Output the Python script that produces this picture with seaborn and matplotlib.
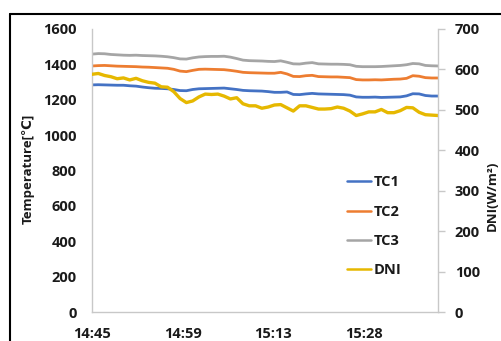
import numpy as np
import pandas as pd
import matplotlib
matplotlib.use("Agg")
import matplotlib.pyplot as plt
from matplotlib.lines import Line2D
import seaborn as sns

# Minutes elapsed since 14:45, one reading per minute
minutes = list(range(56))

tc1 = [1284, 1285, 1284, 1283, 1282, 1282, 1279, 1277, 1272, 1268,
       1265, 1264, 1262, 1258, 1252, 1251, 1258, 1262, 1263, 1264,
       1265, 1266, 1262, 1258, 1253, 1251, 1250, 1249, 1246, 1242,
       1242, 1244, 1230, 1229, 1233, 1236, 1233, 1232, 1231, 1230,
       1229, 1226, 1216, 1214, 1214, 1215, 1213, 1214, 1215, 1216,
       1222, 1234, 1233, 1224, 1221, 1221]

tc2 = [1391, 1393, 1394, 1392, 1390, 1389, 1388, 1387, 1385, 1384,
       1382, 1380, 1378, 1372, 1362, 1359, 1366, 1372, 1373, 1372,
       1371, 1370, 1366, 1361, 1355, 1353, 1352, 1351, 1350, 1350,
       1355, 1346, 1332, 1331, 1336, 1338, 1331, 1330, 1329, 1329,
       1327, 1325, 1314, 1312, 1312, 1313, 1312, 1314, 1316, 1317,
       1321, 1336, 1333, 1325, 1323, 1323]

tc3 = [1458, 1461, 1460, 1456, 1454, 1452, 1451, 1452, 1450, 1449,
       1448, 1446, 1443, 1438, 1431, 1430, 1437, 1442, 1444, 1445,
       1445, 1446, 1441, 1433, 1424, 1421, 1420, 1419, 1417, 1416,
       1420, 1412, 1403, 1402, 1407, 1410, 1403, 1402, 1401, 1401,
       1400, 1398, 1389, 1387, 1387, 1387, 1388, 1390, 1392, 1394,
       1398, 1405, 1403, 1394, 1392, 1391]

dni = [588, 590, 585, 582, 577, 579, 574, 578, 572, 568,
       566, 557, 556, 545, 528, 518, 522, 532, 539, 538,
       539, 534, 527, 530, 515, 510, 510, 504, 507, 512,
       513, 505, 497, 510, 510, 506, 502, 502, 503, 507,
       504, 497, 486, 490, 495, 495, 501, 493, 493, 498,
       506, 505, 494, 488, 487, 486]

tick_minutes = [0, 14.4, 28.8, 43.2]
tick_labels = ["14:45", "14:59", "15:13", "15:28"]

series_names = ["TC1", "TC2", "TC3"]
series_colors = {"TC1": "#4472C4", "TC2": "#ED7D31", "TC3": "#A5A5A5"}
dni_color = "#E6B800"

temp_df = pd.DataFrame({"minute": minutes, "TC1": tc1, "TC2": tc2, "TC3": tc3})
temp_long = temp_df.melt(id_vars="minute", var_name="sensor", value_name="temp")
dni_df = pd.DataFrame({"minute": minutes, "DNI": dni})

sns.set_style("white")
plt.rcParams["font.family"] = ["Open Sans", "DejaVu Sans"]
plt.rcParams["font.weight"] = "bold"
plt.rcParams["mathtext.fontset"] = "custom"
plt.rcParams["mathtext.bf"] = "Open Sans:bold"
plt.rcParams["mathtext.rm"] = "Open Sans:bold"

fig = plt.figure(figsize=(5.02, 3.41), dpi=100)
ax = fig.add_axes([92 / 502, 1 - 312 / 341, (438 - 92) / 502, (312 - 29) / 341])
ax2 = ax.twinx()

sns.lineplot(data=temp_long, x="minute", y="temp", hue="sensor",
             hue_order=series_names, palette=series_colors,
             linewidth=2.0, ax=ax, legend=False)
sns.lineplot(data=dni_df, x="minute", y="DNI", color=dni_color,
             linewidth=2.4, ax=ax2, legend=False)

ax.set_xlim(0, 55)
ax.set_ylim(0, 1600)
ax2.set_ylim(0, 700)
ax.set_yticks(range(0, 1601, 200))
ax2.set_yticks(range(0, 701, 100))
ax.set_xticks(tick_minutes)
ax.set_xticklabels(tick_labels)

spine_c = "#C8C8C8"
for a in (ax, ax2):
    a.spines["top"].set_visible(False)
    for s in ("left", "right", "bottom"):
        a.spines[s].set_color(spine_c)
        a.spines[s].set_linewidth(1.0)
ax.spines["right"].set_visible(False)
ax2.spines["left"].set_visible(False)
ax2.spines["bottom"].set_visible(False)

ink = "#1a1a1a"
ax.tick_params(axis="y", length=0, pad=11, labelsize=10.5, labelcolor=ink)
ax.tick_params(axis="x", length=0, pad=11, labelsize=10.5, labelcolor=ink)
ax2.tick_params(axis="y", length=5, width=1, color=spine_c, direction="out",
                pad=7, labelsize=10.5, labelcolor=ink)
for lbl in ax.get_xticklabels() + ax.get_yticklabels() + ax2.get_yticklabels():
    lbl.set_fontweight("bold")

ax.set_xlabel("")
ax.set_ylabel("")
ax2.set_ylabel("")
fig.text(28 / 502, 1 - 169 / 341, "Temperature[℃]", rotation=90,
         ha="center", va="center", fontsize=9.5, fontweight="bold", color=ink)
fig.text(492 / 502, 1 - 196 / 341, "DNI(W/m²)", rotation=90,
         ha="center", va="center", fontsize=9.5, fontweight="bold", color=ink)

handles = [Line2D([], [], color=series_colors[n], lw=1.8) for n in series_names]
handles.append(Line2D([], [], color=dni_color, lw=1.8))
labels = series_names + ["DNI"]
leg = fig.legend(handles, labels, loc="upper left",
                 bbox_to_anchor=(340 / 502, 1 - 168 / 341),
                 frameon=False, fontsize=10.5, handlelength=1.6,
                 handletextpad=0.2, labelspacing=1.05, borderpad=0)
for t in leg.get_texts():
    t.set_fontweight("bold")
    t.set_color(ink)

# Outer frame around the chart area
fig.add_artist(Line2D([9.5 / 502, 9.5 / 502], [0, 1 - 14 / 341],
                      transform=fig.transFigure, color="black", lw=1.5))
fig.add_artist(Line2D([9.5 / 502, 1], [1 - 14 / 341, 1 - 14 / 341],
                      transform=fig.transFigure, color="black", lw=1.5))

fig.savefig("out.png", dpi=100)
